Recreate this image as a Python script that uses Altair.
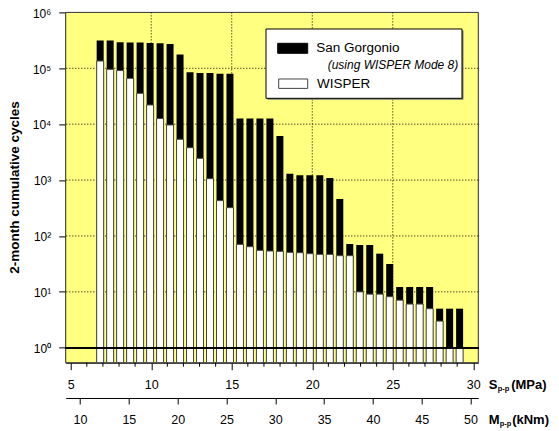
import altair as alt
import pandas as pd

# ---- data ----
S_center = [6.83, 7.45, 8.07, 8.69, 9.31, 9.93, 10.55, 11.17, 11.79, 12.41,
            13.03, 13.65, 14.27, 14.89, 15.51, 16.13, 16.75, 17.37, 17.99, 18.61,
            19.23, 19.85, 20.47, 21.09, 21.71, 22.33, 22.95, 23.57, 24.19, 24.81,
            25.43, 26.05, 26.67, 27.29, 27.91, 28.53, 29.15]
san_gorgonio = [313000, 313000, 292000, 288000, 288000, 284000, 281000, 273000, 176000, 84900,
                82600, 82600, 80000, 80000, 12600, 12600, 12600, 12600, 6150, 1300,
                1220, 1220, 1220, 1090, 459, 71.8, 68.9, 68.9, 48.2, 31.5,
                12.2, 12.2, 12.2, 12.2, 5, 5, 5]
wisper = [135000, 95900, 91000, 66200, 35700, 22100, 12600, 9680, 5370, 3800,
          2450, 1060, 429, 321, 70.8, 64.3, 55.3, 53.8, 53.1, 50.9,
          50.2, 48.2, 46.9, 46.9, 44.4, 44.4, 10, 9.1, 9.1, 8.2,
          7.1, 6.05, 6.05, 5.0, 3, 1, 1]
S_ticks = [5, 10, 15, 20, 25, 30]
S_grid = [10, 15, 20, 25]
S_minor = [6, 7, 8, 9, 11, 12, 13, 14, 16, 17, 18, 19, 21, 22, 23, 24, 26, 27, 28, 29]
M_ticks = [10, 15, 20, 25, 30, 35, 40, 45, 50]
Y_ticks = [1, 10, 100, 1000, 10000, 100000, 1000000]
Y_grid = [1, 10, 100, 1000, 10000, 100000]
S_domain = [5, 30]
M_domain = [8.53, 50.8]
Y_domain = [0.54, 1000000]

W, H = 412.6, 350.3
FONT = "Liberation Sans"
YELLOW = "#FFFF80"

df = pd.DataFrame({"S": S_center, "sg": san_gorgonio, "wi": wisper})

xS = alt.X("S:Q", scale=alt.Scale(domain=S_domain, nice=False, zero=False),
           axis=alt.Axis(values=S_ticks, format="d", title=None, tickSize=7,
                         tickColor="black", domainColor="black", labelColor="black",
                         labelFontSize=12.5, labelBaseline="middle", labelPadding=15,
                         grid=False))
yScale = alt.Scale(type="log", domain=Y_domain, nice=False)
yAxis = alt.Axis(values=Y_ticks, title=None, tickSize=7, tickColor="black",
                 domainColor="black", labelColor="black", labelFontSize=12,
                 labelPadding=8, labelOffset=0.8,
                 labelExpr="'10' + ['\u2070','\u00b9','\u00b2','\u00b3','\u2074','\u2075','\u2076'][round(log(datum.value)/LN10)]",
                 grid=False)

# plot background + frame
bg = alt.Chart(pd.DataFrame({"a": [0]})).mark_rect(
    fill=YELLOW, stroke="#333", strokeWidth=1
).encode(x=alt.value(0), x2=alt.value(W), y=alt.value(0), y2=alt.value(H))

# dotted grid (drawn from the tick arrays through the shared scales)
vgrid = alt.Chart(pd.DataFrame({"S": S_grid})).mark_rule(
    color="black", strokeWidth=1, strokeDash=[1, 2]
).encode(x=xS)
hgrid = alt.Chart(pd.DataFrame({"sg": Y_grid})).mark_rule(
    color="black", strokeWidth=1, strokeDash=[1, 2]
).encode(y=alt.Y("sg:Q", scale=yScale, axis=yAxis))

black = alt.Chart(df).mark_bar(size=7, color="black").encode(
    x=xS,
    y=alt.Y("sg:Q", scale=yScale, axis=yAxis),
    y2=alt.datum(Y_domain[0]),
)
white = alt.Chart(df).mark_bar(size=7, fill="white", stroke="#444", strokeWidth=1).encode(
    x=xS, y=alt.Y("wi:Q", scale=yScale, axis=yAxis), y2=alt.datum(Y_domain[0])
)
one_line = alt.Chart(df).mark_rule(color="black", strokeWidth=1.3).encode(y=alt.datum(1))

minor = alt.Chart(pd.DataFrame({"S": S_minor})).mark_rule(color="black").encode(
    x=xS, y=alt.value(H), y2=alt.value(H + 4)
)

def txt(t, x, y, size=13, weight="bold", style="normal", align="left", angle=0):
    return alt.Chart(pd.DataFrame({"t": [t]})).mark_text(
        align=align, baseline="middle", font=FONT, fontSize=size, fontWeight=weight,
        fontStyle=style, color="black", angle=angle
    ).encode(text="t:N", x=alt.value(x), y=alt.value(y))

def box(x1, x2, y1, y2, fill, stroke, sw=1):
    return alt.Chart(pd.DataFrame({"a": [0]})).mark_rect(
        fill=fill, stroke=stroke, strokeWidth=sw
    ).encode(x=alt.value(x1), x2=alt.value(x2), y=alt.value(y1), y2=alt.value(y2))

legend = [
    box(201.8, 397.8, 18.1, 87.4, "#777", "#777", 0),
    box(200.3, 396.3, 16.6, 85.9, "white", "black", 1),
    box(212, 242, 30.9, 40.9, "black", "black", 1),
    box(213, 242, 66.6, 76, "white", "#444", 1),
    txt("San Gorgonio", 250.6, 35.9, size=13.5, weight="normal"),
    txt("(using WISPER Mode 8)", 262, 52.6, size=12, weight="normal", style="italic"),
    txt("WISPER", 251.3, 71.9, size=13.5, weight="normal"),
]

titles = [
    txt("2-month cumulative cycles", -50.7, H / 2, size=13.5, align="center", angle=270),
    txt("S", 423.0, 372.6, size=13),
    txt("p-p", 432.0, 377.0, size=7.5),
    txt("(MPa)", 445.5, 372.6, size=13),
    txt("M", 423.0, 407.6, size=13),
    txt("p-p", 434.0, 412.0, size=7.5),
    txt("(kNm)", 446.5, 407.6, size=13),
]

inner = alt.layer(bg, vgrid, hgrid, black, white, one_line, minor, *legend, *titles)

m_axis = alt.Chart(pd.DataFrame({"M": M_ticks})).mark_tick(opacity=0).encode(
    x=alt.X("M:Q", scale=alt.Scale(domain=M_domain, nice=False, zero=False),
            axis=alt.Axis(values=M_ticks, format="d", title=None, orient="bottom",
                          offset=35.3, tickSize=6, tickColor="black", domainColor="black",
                          labelColor="black", labelFontSize=12.5, labelBaseline="middle",
                          labelPadding=15.5, grid=False))
)

chart = alt.layer(inner, m_axis).resolve_scale(x="independent").properties(
    width=W, height=H,
    autosize=alt.AutoSizeParams(type="none"),
    padding={"left": 57.7, "top": 4.4, "right": 72.5, "bottom": 66},
).configure_view(
    fill=YELLOW, stroke="#333", strokeWidth=1
).configure(font=FONT)

chart.save("out.html", embed_options={"renderer": "svg", "actions": False})
